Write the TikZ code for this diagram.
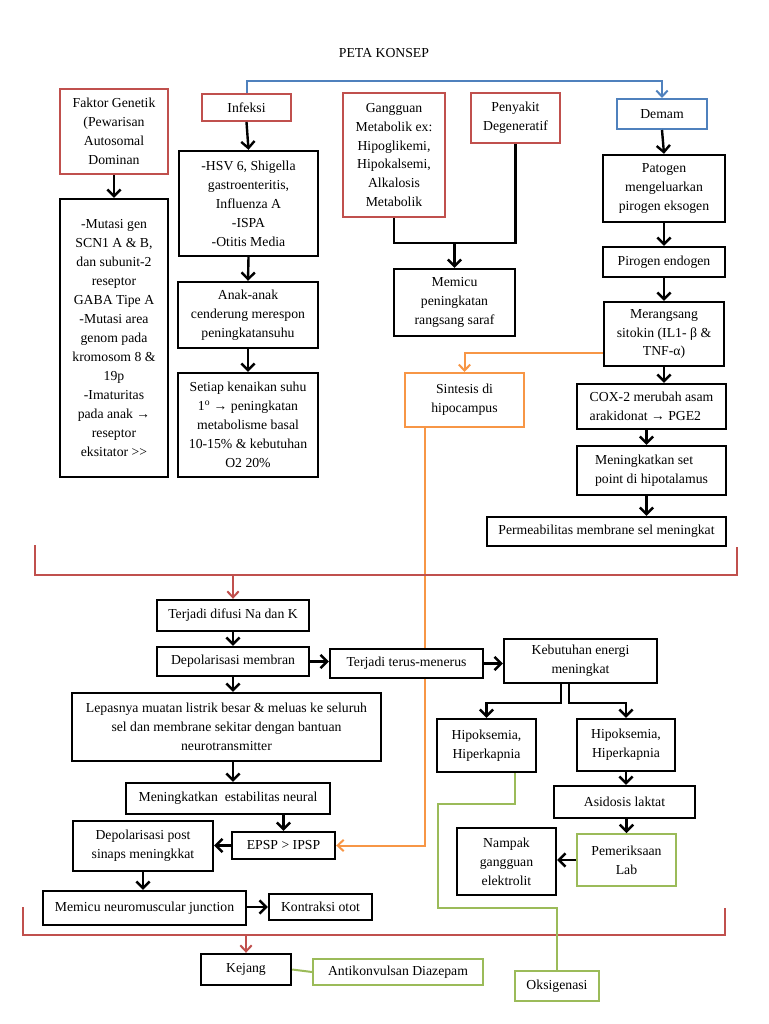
\documentclass[tikz,border=0pt]{standalone}
\usepackage{fontspec}
\setmainfont{Liberation Serif}
\usetikzlibrary{arrows.meta,calc,backgrounds}
\definecolor{cred}{HTML}{C0504D}
\definecolor{cblue}{HTML}{4F81BD}
\definecolor{corange}{HTML}{F79646}
\definecolor{cgreen}{HTML}{9BBB59}
\newcommand\fs{\fontsize{10.3}{14.2}\selectfont}
\newcommand\bx[7]{\node[#6, inner sep=0pt, minimum width={(#4-#2)*0.75pt}, minimum height={(#5-#3)*0.75pt}] (#1) at ({(#2+#4)/2},{(#3+#5)/2}) {#7};}
\tikzset{
  base/.style={draw, fill=white, align=center, font=\fs},
  bk/.style={base, line width=1.8pt},
  bkl/.style={base, line width=1.8pt, align=left},
  rd/.style={base, draw=cred, line width=1.5pt},
  bl/.style={base, draw=cblue, line width=1.5pt},
  og/.style={base, draw=corange, line width=1.5pt},
  gr/.style={base, draw=cgreen, line width=1.5pt},
  arr/.style={line width=1.8pt, -{Straight Barb[length=5pt,width=10pt]}},
  blk/.style={line width=1.8pt},
  redline/.style={line width=1.5pt, draw=cred},
  redarr/.style={line width=1.5pt, draw=cred, -{Straight Barb[length=4.5pt,width=8.5pt]}},
  bluearr/.style={line width=1.5pt, draw=cblue, -{Straight Barb[length=4.5pt,width=8.5pt]}},
  orarr/.style={line width=1.5pt, draw=corange, -{Straight Barb[length=4.5pt,width=8.5pt]}},
  grline/.style={line width=1.5pt, draw=cgreen},
}
\begin{document}
\begin{tikzpicture}[x=0.75pt,y=-0.75pt]
\useasboundingbox (0,0) rectangle (768,1024);
\node[font=\fs] (title) at (384,53) {PETA KONSEP};
% top row
\bx{faktor}{60}{89}{168}{174}{rd}{Faktor Genetik\\(Pewarisan\\Autosomal\\Dominan}
\bx{mutasi}{60}{199}{168}{477}{bk}{-Mutasi gen\\SCN1 A \& B,\\dan subunit-2\\reseptor\\GABA Tipe A\\-Mutasi area\\genom pada\\kromosom 8 \&\\19p\\-Imaturitas\\pada anak →\\reseptor\\eksitator >{}>}
\bx{infeksi}{202}{94}{291}{121}{rd}{Infeksi}
\bx{hsv}{179}{151}{318}{256}{bk}{-HSV 6, Shigella\\gastroenteritis,\\Influenza A\\-ISPA\\-Otitis Media}
\bx{anak}{178}{282}{318}{348}{bk}{Anak-anak\\cenderung merespon\\peningkatansuhu}
\bx{setiap}{178}{373}{318}{477}{bk}{Setiap kenaikan suhu\\1\textsuperscript{o} → peningkatan\\metabolisme basal\\10-15\% \& kebutuhan\\O2 20\%}
\bx{gang}{343}{93}{445}{217}{rd}{Gangguan\\Metabolik ex:\\Hipoglikemi,\\Hipokalsemi,\\Alkalosis\\Metabolik}
\bx{pen}{471}{93}{560}{143}{rd}{Penyakit\\Degeneratif}
\bx{memicu}{394}{269}{515}{336}{bk}{Memicu\\peningkatan\\rangsang saraf}
\bx{demam}{617}{99}{707}{129}{bl}{Demam}
\bx{patogen}{603}{155}{725}{222}{bk}{Patogen\\mengeluarkan\\pirogen eksogen}
\bx{pirogen}{603}{247}{725}{277}{bk}{Pirogen endogen}
\bx{merang}{604}{302}{724}{366}{bk}{Merangsang\\sitokin (IL1- β \&\\TNF-α)}
\bx{sint}{405}{373}{524}{427}{og}{Sintesis di\\hipocampus}
\bx{cox}{577}{384}{726}{429}{bkl}{COX-2 merubah asam\\arakidonat → PGE2}
\bx{mening}{577}{446}{726}{495}{bkl}{Meningkatkan set\\point di hipotalamus}
\bx{perm}{487}{517}{726}{546}{bk}{Permeabilitas membrane sel meningkat}
% lower part
\bx{difusi}{157}{600}{309}{631}{bk}{Terjadi difusi Na dan K}
\bx{depol}{157}{647}{309}{676}{bk}{Depolarisasi membran}
\bx{terus}{330}{649}{483}{678}{bk}{Terjadi terus-menerus}
\bx{keb}{504}{639}{657}{683}{bk}{Kebutuhan energi\\meningkat}
\bx{lep}{72}{693}{381}{761}{bk}{Lepasnya muatan listrik besar \& meluas ke seluruh\\sel dan membrane sekitar dengan bantuan\\neurotransmitter}
\bx{mest}{126}{783}{330}{814}{bk}{Meningkatkan\ \ estabilitas neural}
\bx{epsp}{232}{832}{335}{859}{bk}{EPSP > IPSP}
\bx{dpost}{73}{821}{213}{871}{bk}{Depolarisasi post\\sinaps meningkkat}
\bx{nmj}{43}{891}{246}{925}{bk}{Memicu neuromuscular junction}
\bx{kontr}{269}{894}{372}{920}{bk}{Kontraksi otot}
\bx{kejang}{201}{954}{291}{985}{bk}{Kejang}
\bx{anti}{313}{959}{483}{985}{gr}{Antikonvulsan Diazepam}
\bx{hipo1}{437}{719}{536}{772}{bk}{Hipoksemia,\\Hiperkapnia}
\bx{hipo2}{577}{719}{675}{771}{bk}{Hipoksemia,\\Hiperkapnia}
\bx{asid}{554}{786}{695}{818}{bk}{Asidosis laktat}
\bx{pem}{577}{834}{676}{886}{gr}{Pemeriksaan\\Lab}
\bx{nampak}{457}{828}{556}{895}{bk}{Nampak\\gangguan\\elektrolit}
\bx{oks}{515}{971}{599}{1001}{gr}{Oksigenasi}
% connectors top
\draw[bluearr] (infeksi.north) -- ++(0,-12) -| (demam.north);
\draw[arr] (faktor.south) -- (mutasi.north);
\draw[arr] (infeksi.south) -- (hsv.north);
\draw[arr] (hsv.south) -- (anak.north);
\draw[arr] (anak.south) -- (setiap.north);
\coordinate (j1) at ($(gang.south)+(0,25)$);
\draw[blk] (gang.south) -- (j1) -| (pen.south);
\draw[arr] (memicu.north |- j1) -- (memicu.north);
\draw[arr] (demam.south) -- (patogen.north);
\draw[arr] (patogen.south) -- (pirogen.north);
\draw[arr] (pirogen.south) -- (merang.north);
\draw[arr] (merang.south) -- (merang.south |- cox.north);
\draw[arr] ($(cox.south)+(-5,0)$) -- ($(mening.north)+(-5,0)$);
\draw[arr] ($(mening.south)+(-5,0)$) -- ($(mening.south |- perm.north)+(-5,0)$);
\draw[orarr] ($(merang.west)+(0,19)$) -| (sint.north);
% red bracket 1
\coordinate (rb1) at (0,575);
\draw[redline] (35,545) -- (35,575) -- (737,575) -- (737,547);
\draw[redarr] (difusi.north |- rb1) -- (difusi.north);
\begin{scope}[on background layer]
\draw[orarr] ($(sint.south)+(-40,0)$) |- (epsp.east);
\end{scope}
% lower connectors
\draw[arr] (difusi.south) -- (depol.north);
\draw[arr] (depol.east) -- (depol.east -| terus.west);
\draw[arr] (terus.east) -- (terus.east -| keb.west);
\draw[arr] (depol.south) -- (depol.south |- lep.north);
\draw[arr] (depol.south |- lep.south) -- (depol.south |- mest.north);
\draw[arr] (epsp.north |- mest.south) -- (epsp.north);
\draw[arr] (epsp.west) -- (epsp.west -| dpost.east);
\draw[arr] (dpost.south) -- (dpost.south |- nmj.north);
\draw[arr] (nmj.east |- kontr.west) -- (kontr.west);
\draw[arr] ($(keb.south)+(-19.5,0)$) -- ++(0,19) -| (hipo1.north);
\draw[arr] ($(keb.south)+(-11.5,0)$) -- ++(0,19) -| (hipo2.north);
\draw[arr] (hipo2.south) -- (hipo2.south |- asid.north);
\draw[arr] (pem.north |- asid.south) -- (pem.north);
\draw[arr] (pem.west) -- (pem.west -| nampak.east);
% red bracket 2
\coordinate (rb2) at (0,935);
\draw[redline] (23,907) -- (23,935) -- (725,935) -- (725,908);
\draw[redarr] (kejang.north |- rb2) -- (kejang.north);
\draw[grline] ($(hipo1.south)+(28,0)$) -- ++(0,31) -| ++(-77,104) -| (oks.north);
\draw[grline] (kejang.east) -- (anti.west);
\end{tikzpicture}
\end{document}
